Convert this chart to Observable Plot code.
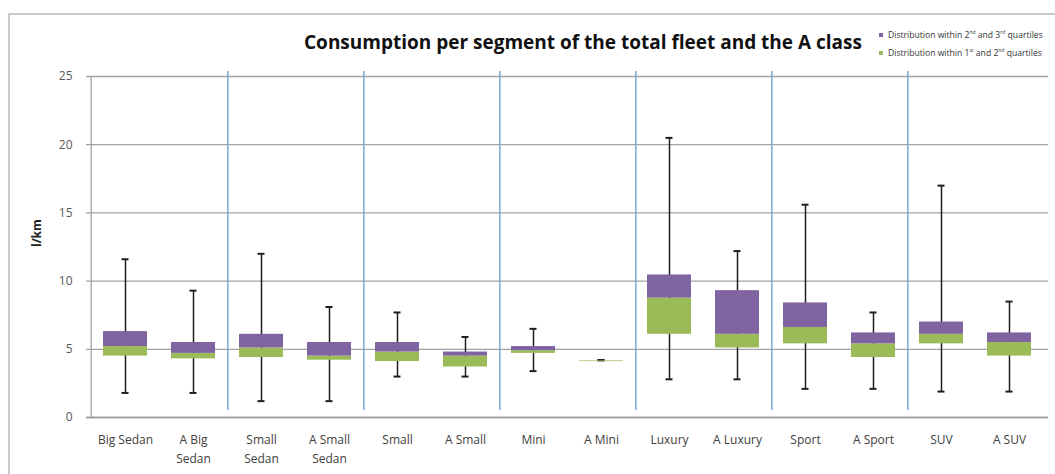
<!DOCTYPE html>
<html><head><meta charset="utf-8">
<script src="https://cdn.jsdelivr.net/npm/d3@7"></script>
<script src="https://cdn.jsdelivr.net/npm/@observablehq/plot@0.6"></script>
<style>
body{margin:0;background:#fff;font-family:"Open Sans",sans-serif;}
#wrap{position:relative;width:1055px;height:474px;overflow:hidden;}
#frame{position:absolute;left:8px;top:13px;width:1100px;height:520px;border-left:2px solid #cacaca;border-top:2px solid #cacaca;pointer-events:none;}
#head{position:relative;height:62px;}
#title{position:absolute;left:583px;top:30px;transform:translateX(-50%);white-space:nowrap;font-weight:bold;font-size:19px;line-height:24px;color:#111;}
.leg{position:absolute;left:879px;font-size:8.6px;color:#333;white-space:nowrap;line-height:10px;}
.leg i{display:inline-block;width:4px;height:4px;margin-right:5px;vertical-align:middle;position:relative;top:-1px;}
.leg sup{font-size:5px;line-height:0;}
#chart{position:relative;}
</style></head>
<body>
<div id="wrap">
<div id="frame"></div>
<div id="head">
<div id="title">Consumption per segment of the total fleet and the A class</div>
<div class="leg" id="leg1" style="top:30px"></div>
<div class="leg" id="leg2" style="top:48px"></div>
</div>
<div id="chart"></div>
</div>
<script>
const categories = ["Big Sedan","A Big Sedan","Small Sedan","A Small Sedan","Small","A Small","Mini","A Mini","Luxury","A Luxury","Sport","A Sport","SUV","A SUV"];
const tickLabels = ["Big Sedan","A Big\nSedan","Small\nSedan","A Small\nSedan","Small","A Small","Mini","A Mini","Luxury","A Luxury","Sport","A Sport","SUV","A SUV"];
const minValues    = [1.8, 1.8, 1.2, 1.2, 3.0, 3.0, 3.4, 4.2, 2.8, 2.8, 2.1, 2.1, 1.9, 1.9];
const q1Values     = [4.5, 4.3, 4.4, 4.2, 4.1, 3.7, 4.7, 4.1, 6.1, 5.1, 5.4, 4.4, 5.4, 4.5];
const medianValues = [5.2, 4.7, 5.1, 4.5, 4.8, 4.5, 4.9, 4.15, 8.75, 6.1, 6.6, 5.4, 6.1, 5.5];
const q3Values     = [6.3, 5.5, 6.1, 5.5, 5.5, 4.8, 5.2, 4.15, 10.45, 9.3, 8.4, 6.2, 7.0, 6.2];
const maxValues    = [11.6, 9.3, 12.0, 8.1, 7.7, 5.9, 6.5, 4.2, 20.5, 12.2, 15.6, 7.7, 17.0, 8.5];
const yTicks = [0, 5, 10, 15, 20, 25];
const groupEnds = ["A Big Sedan","A Small Sedan","A Small","A Mini","A Luxury","A Sport"];
const legendItems = [
  {label: "Distribution within 2<sup>nd</sup> and 3<sup>rd</sup> quartiles", color: "#8064a2"},
  {label: "Distribution within 1<sup>st</sup> and 2<sup>nd</sup> quartiles", color: "#9bbb59"}
];

document.getElementById("leg1").innerHTML = `<i style="background:${legendItems[0].color}"></i>${legendItems[0].label}`;
document.getElementById("leg2").innerHTML = `<i style="background:${legendItems[1].color}"></i>${legendItems[1].label}`;

const data = categories.map((c, i) => ({cat: c, min: minValues[i], q1: q1Values[i], median: medianValues[i], q3: q3Values[i], max: maxValues[i]}));

const W = 1055, ML = 86, MR = 7;
const step = (W - ML - MR) / categories.length;
const labelOf = new Map(categories.map((c, i) => [c, tickLabels[i]]));

const chart = Plot.plot({
  width: W,
  height: 412,
  marginLeft: ML,
  marginRight: MR,
  marginTop: 14,
  marginBottom: 57,
  style: {fontFamily: "'Open Sans', sans-serif", fontSize: "12px", background: "transparent"},
  x: {type: "band", domain: categories, paddingInner: 0.36, paddingOuter: 0.18, axis: null},
  y: {domain: [0, 25], axis: null},
  marks: [
    Plot.gridY(yTicks.slice(1), {stroke: "#a3a3a3", strokeOpacity: 1, strokeWidth: 1.3}),
    Plot.ruleX([categories[0]], {dx: -step / 2, stroke: "#a3a3a3", strokeWidth: 1.3}),
    Plot.ruleX(groupEnds, {dx: step / 2, insetTop: -5, insetBottom: 7, stroke: "#7aa7dc", strokeWidth: 1.5}),
    Plot.ruleX(data, {x: "cat", y1: "min", y2: "max", stroke: "#1e1e1e", strokeWidth: 1.5}),
    Plot.tickY(data, {x: "cat", y: "max", insetLeft: 18.5, insetRight: 18.5, stroke: "#1e1e1e", strokeWidth: 2}),
    Plot.tickY(data, {x: "cat", y: "min", insetLeft: 18.5, insetRight: 18.5, stroke: "#1e1e1e", strokeWidth: 2}),
    Plot.barY(data, {x: "cat", y1: "q1", y2: "median", fill: "#9bbb59"}),
    Plot.barY(data, {x: "cat", y1: "median", y2: "q3", fill: "#8064a2"}),
    Plot.ruleY([0], {stroke: "#a3a3a3", strokeWidth: 2}),
    Plot.axisY(yTicks, {tickSize: 0, tickPadding: 14, fontSize: 12, fill: "#595959", label: null}),
    Plot.axisX(categories, {tickSize: 0, tickPadding: 13, fontSize: 12, fill: "#404040", lineHeight: 1.6, label: null, tickFormat: d => labelOf.get(d)}),
    Plot.text(["l/km"], {frameAnchor: "left", dx: -49, rotate: -90, fontWeight: "bold", fontSize: 12, fill: "#222"})
  ]
});
document.getElementById("chart").appendChild(chart);
</script>
</body></html>
